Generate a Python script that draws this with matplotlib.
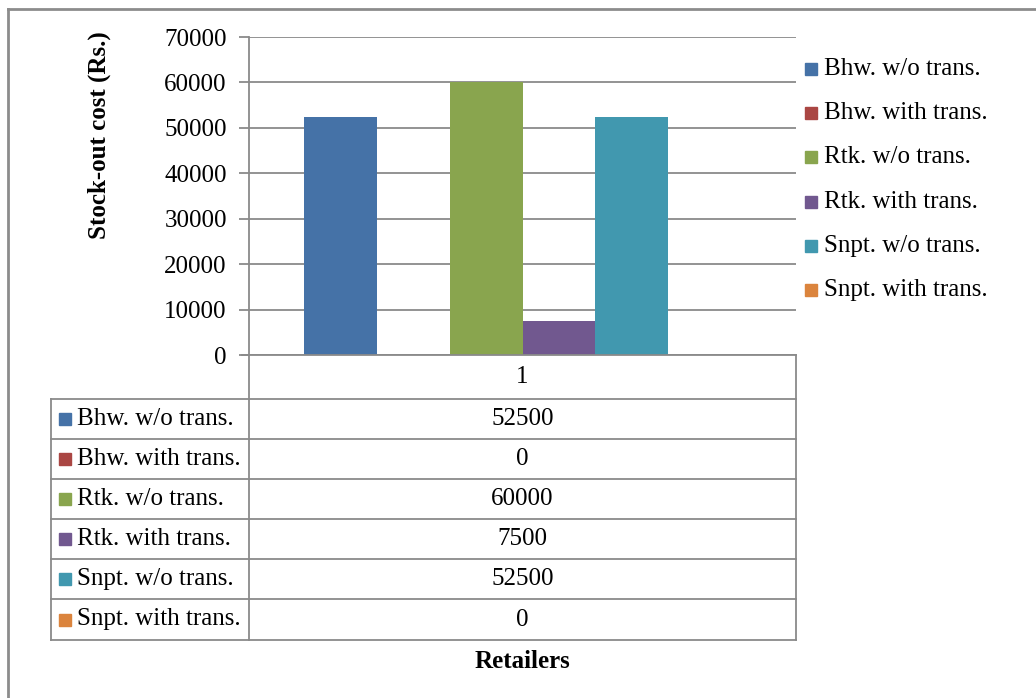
"""Stock-out cost bar chart with a data table underneath"""

import matplotlib
matplotlib.use("Agg")
import matplotlib.pyplot as plt
from matplotlib.lines import Line2D
from matplotlib.patches import Rectangle

# series shown in the chart and in the table
series = ["Bhw. w/o trans.", "Bhw. with trans.", "Rtk. w/o trans.",
          "Rtk. with trans.", "Snpt. w/o trans.", "Snpt. with trans."]
costs = [52500, 0, 60000, 7500, 52500, 0]
colors = ["#4572A7", "#AA4643", "#89A54E", "#71588F", "#4198AF", "#DB843D"]
category = "1"
y_ticks = [0, 10000, 20000, 30000, 40000, 50000, 60000, 70000]

W, H = 1036, 698
GRID = "#8a8a8a"
FONT = "Liberation Serif"
FS = 18

plt.rcParams['font.family'] = [FONT, 'DejaVu Serif']

fig = plt.figure(figsize=(W / 100, H / 100), dpi=100)


def fx(x):
    return x / W


def fy(y):
    return 1 - y / H


def hline(y, x0, x1, color=GRID, lw=1.3):
    fig.add_artist(Line2D([fx(x0), fx(x1)], [fy(y), fy(y)], color=color, lw=lw))


def vline(x, y0, y1, color=GRID, lw=1.3):
    fig.add_artist(Line2D([fx(x), fx(x)], [fy(y0), fy(y1)], color=color, lw=lw))


# plot area
left, right, top, bottom = 249, 796, 37, 355
ax = fig.add_axes([fx(left), fy(bottom), fx(right - left), (bottom - top) / H])
n = len(costs)
group = 0.8
bw = group / n
for i, (v, c) in enumerate(zip(costs, colors)):
    ax.bar(-group / 2 + bw * (i + 0.5), v, width=bw, color=c, zorder=3)
ax.set_xlim(-0.5, 0.5)
ax.set_ylim(0, 70000)
ax.set_yticks(y_ticks)
ax.set_yticklabels([str(t) for t in y_ticks], fontsize=FS)
ax.set_xticks([])
ax.yaxis.grid(True, color=GRID, lw=1.3, zorder=0)
ax.tick_params(axis='y', length=7, color=GRID, width=1.3, pad=9)
for s in ["top", "right", "bottom"]:
    ax.spines[s].set_visible(False)
ax.spines["left"].set_color(GRID)
ax.spines["left"].set_linewidth(1.3)
ax.set_ylabel("Stock-out cost (Rs.)", fontsize=FS, fontweight="bold")
ax.yaxis.set_label_coords(-0.252, 0.69)

# data table
row_tops = [355, 399, 439, 479, 519, 559, 599, 640]
tab_left = 51
vline(left, bottom, row_tops[-1])
vline(right, bottom, row_tops[-1])
vline(tab_left, row_tops[1], row_tops[-1])
hline(bottom, 242, right)
for y in row_tops[1:]:
    hline(y, tab_left, right)

fig.text(fx((left + right) / 2), fy((row_tops[0] + row_tops[1]) / 2), category,
         fontsize=FS, ha="center", va="center")
for i, (name, v, c) in enumerate(zip(series, costs, colors)):
    yc = (row_tops[i + 1] + row_tops[i + 2]) / 2
    fig.add_artist(Rectangle((fx(59), fy(yc + 6)), 12 / W, 12 / H, color=c))
    fig.text(fx(77), fy(yc), name, fontsize=FS, ha="left", va="center")
    fig.text(fx((left + right) / 2), fy(yc), str(v), fontsize=FS,
             ha="center", va="center")

fig.text(fx(522), fy(661), "Retailers", fontsize=FS, fontweight="bold",
         ha="center", va="center")

# legend on the right
for i, (name, c) in enumerate(zip(series, colors)):
    yc = 69 + i * 44.2
    fig.add_artist(Rectangle((fx(805), fy(yc + 6)), 12 / W, 12 / H, color=c))
    fig.text(fx(824), fy(yc), name, fontsize=FS, ha="left", va="center")

# outer frame (left and top edges only)
vline(8, 9, H, color="#8c8c8c", lw=2)
hline(9, 8, W, color="#8c8c8c", lw=2)

fig.savefig("out.png", dpi=100)
